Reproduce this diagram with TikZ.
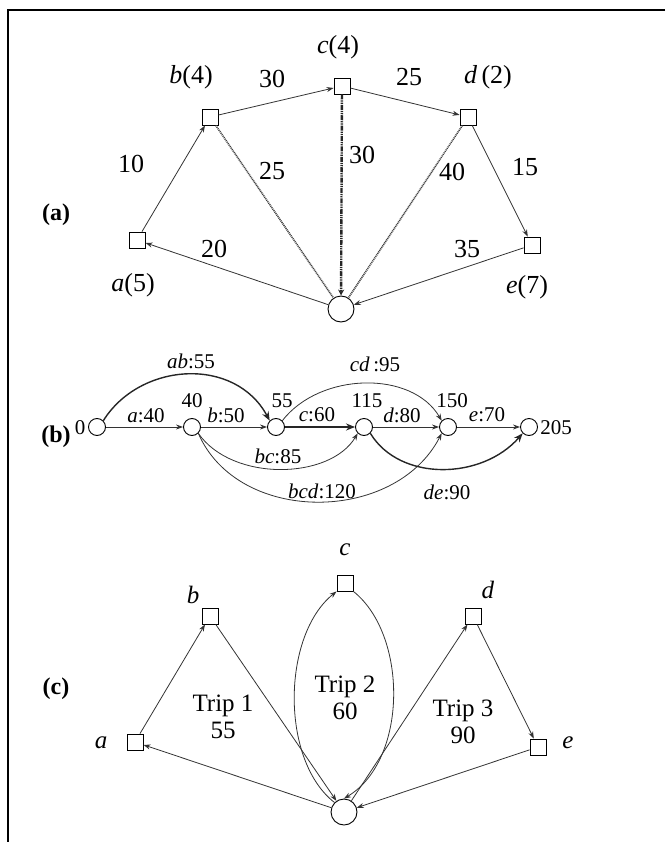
\documentclass[tikz,border=0pt]{standalone}
\usepackage{fontspec}
\setmainfont{Liberation Serif}
\usetikzlibrary{arrows.meta}
\begin{document}
\begin{tikzpicture}[x=1pt,y=-1pt,
 sq/.style={draw,minimum size=16pt,inner sep=0pt,line width=0.9pt},
 dep/.style={draw,circle,minimum size=26pt,inner sep=0pt,line width=0.9pt},
 sn/.style={draw,circle,minimum size=17pt,inner sep=0pt,line width=0.9pt},
 ar/.style={-{Stealth[length=7pt,width=5pt]},line width=0.8pt,draw=black!80},
 thk/.style={-{Stealth[length=9pt,width=7pt]},line width=1.8pt,draw=black!85},
 dots/.style={line width=1.6pt,draw=black!75,dash pattern=on 1pt off 0.8pt},
 lba/.style={inner sep=0pt,font=\fontsize{26}{28}\selectfont},
 lbb/.style={inner sep=0pt,font=\fontsize{21}{23}\selectfont},
 lbc/.style={inner sep=0pt,font=\fontsize{25}{27}\selectfont,align=center},
 part/.style={inner sep=0pt,font=\fontsize{24}{26}\selectfont\bfseries},
 ]
\useasboundingbox (0,0) rectangle (665,842);
\coordinate (f1) at (7,10);
\coordinate (f2) at (665,10);
\coordinate (f3) at (8,842);
\draw[line width=2.2pt] (f2) -- (f1 -| f3) -- (f3);

% part labels
\node[part] (pa) at (56,215) {(a)};
\node[part] (pb) at (56,437) {(b)};
\node[part] (pc) at (56,689) {(c)};

% ---------- (a) ----------
\node[sq] (a1) at (137,240) {};
\node[sq] (b1) at (210,117) {};
\node[sq] (c1) at (342,86) {};
\node[sq] (d1) at (468,117) {};
\node[sq] (e1) at (532,245) {};
\node[dep] (o1) at (341,309) {};

\node[lba] (la1) at (133,285) {\textit{a}(5)};
\node[lba] (lb1) at (191,77) {\textit{b}(4)};
\node[lba] (lc1) at (338,47) {\textit{c}(4)};
\node[lba] (ld1) at (488,77) {\textit{d}\,(2)};
\node[lba] (le1) at (527,287) {\textit{e}(7)};

\draw[ar] (a1) -- (b1);
\draw[ar] (b1) -- (c1);
\draw[ar] (c1) -- (d1);
\draw[ar] (d1) -- (e1);
\draw[ar] (o1) -- (a1);
\draw[ar] (e1) -- (o1);
\draw[dots] (b1) -- (o1);
\draw[line width=2.4pt,draw=black!85,dash pattern=on 5pt off 1pt on 1.2pt off 1pt on 1.2pt off 1pt,-{Stealth[length=6pt,width=6pt]}] (c1) -- (o1);
\draw[dots] (d1) -- (o1);

\node[lba] (w1) at (131,164) {10};
\node[lba] (w2) at (272,79) {30};
\node[lba] (w3) at (409,77) {25};
\node[lba] (w4) at (525,167) {15};
\node[lba] (w5) at (214,249) {20};
\node[lba] (w6) at (467,249) {35};
\node[lba] (w7) at (272,171) {25};
\node[lba] (w8) at (362,155) {30};
\node[lba] (w9) at (452,172) {40};

% ---------- (b) ----------
\node[sn] (n0) at (97,427) {};
\node[sn] (n1) at (192,427) {};
\node[sn] (n2) at (276,427) {};
\node[sn] (n3) at (364,427) {};
\node[sn] (n4) at (448,427) {};
\node[sn] (n5) at (529,427) {};

\node[lbb] (t0) at (80,428) {0};
\node[lbb] (t1) at (192,401) {40};
\node[lbb] (t2) at (282,401) {55};
\node[lbb] (t3) at (367,401) {115};
\node[lbb] (t4) at (452,401) {150};
\node[lbb] (t5) at (556,428) {205};

\draw[ar] (n0) -- (n1);
\draw[ar] (n1) -- (n2);
\draw[thk] (n2) -- (n3);
\draw[ar] (n3) -- (n4);
\draw[ar] (n4) -- (n5);
\draw[thk,line width=1.4pt] (n0.north east) .. controls (140,362) and (235,356) .. (n2.north west);
\draw[ar] (n2.north east) .. controls (320,372) and (412,370) .. (n4.north west);
\draw[ar] (n1.south east) .. controls (232,482) and (330,480) .. (n3.south west);
\draw[ar] (n1.south east) .. controls (238,525) and (395,524) .. (n4.south west);
\draw[thk,line width=1.4pt] (n3.south east) .. controls (400,482) and (482,480) .. (n5.south west);

\node[lbb] (e01) at (146,416) {\textit{a}:40};
\node[lbb] (e12) at (226,415) {\textit{b}:50};
\node[lbb] (e23) at (317,415) {\textit{c}:60};
\node[lbb] (e34) at (402,415) {\textit{d}:80};
\node[lbb] (e45) at (487,415) {\textit{e}:70};
\node[lbb] (e02) at (191,361) {\textit{ab}:55};
\node[lbb] (e24) at (375,364) {\textit{cd}\,:95};
\node[lbb] (e13) at (278,456) {\textit{bc}:85};
\node[lbb] (e14) at (322,491) {\textit{bcd}:120};
\node[lbb] (e35) at (447,492) {\textit{de}:90};

% ---------- (c) ----------
\node[sq] (a3) at (135,742) {};
\node[sq] (b3) at (210,616) {};
\node[sq] (c3) at (345,583) {};
\node[sq] (d3) at (473,616) {};
\node[sq] (e3) at (538,747) {};
\node[dep] (o3) at (344,812) {};

\node[lbc] (la3) at (101,743) {\textit{a}};
\node[lbc] (lb3) at (193,595) {\textit{b}};
\node[lbc] (lc3) at (345,550) {\textit{c}};
\node[lbc] (ld3) at (488,590) {\textit{d}};
\node[lbc] (le3) at (568,743) {\textit{e}};

\draw[ar] (a3) -- (b3);
\draw[ar] (b3) -- (o3);
\draw[ar] (o3) -- (d3);
\draw[ar] (d3) -- (e3);
\draw[ar] (e3) -- (o3);
\draw[ar] (o3) -- (a3);
\draw[ar] (o3.north west) .. controls (280,760) and (282,635) .. (c3.south west);
\draw[ar] (c3.south east) .. controls (408,635) and (408,760) .. (o3.north);

\node[lbc] (tr1) at (223,717) {Trip 1\\55};
\node[lbc] (tr2) at (345,698) {Trip 2\\60};
\node[lbc] (tr3) at (463,722) {Trip 3\\90};
\end{tikzpicture}
\end{document}
